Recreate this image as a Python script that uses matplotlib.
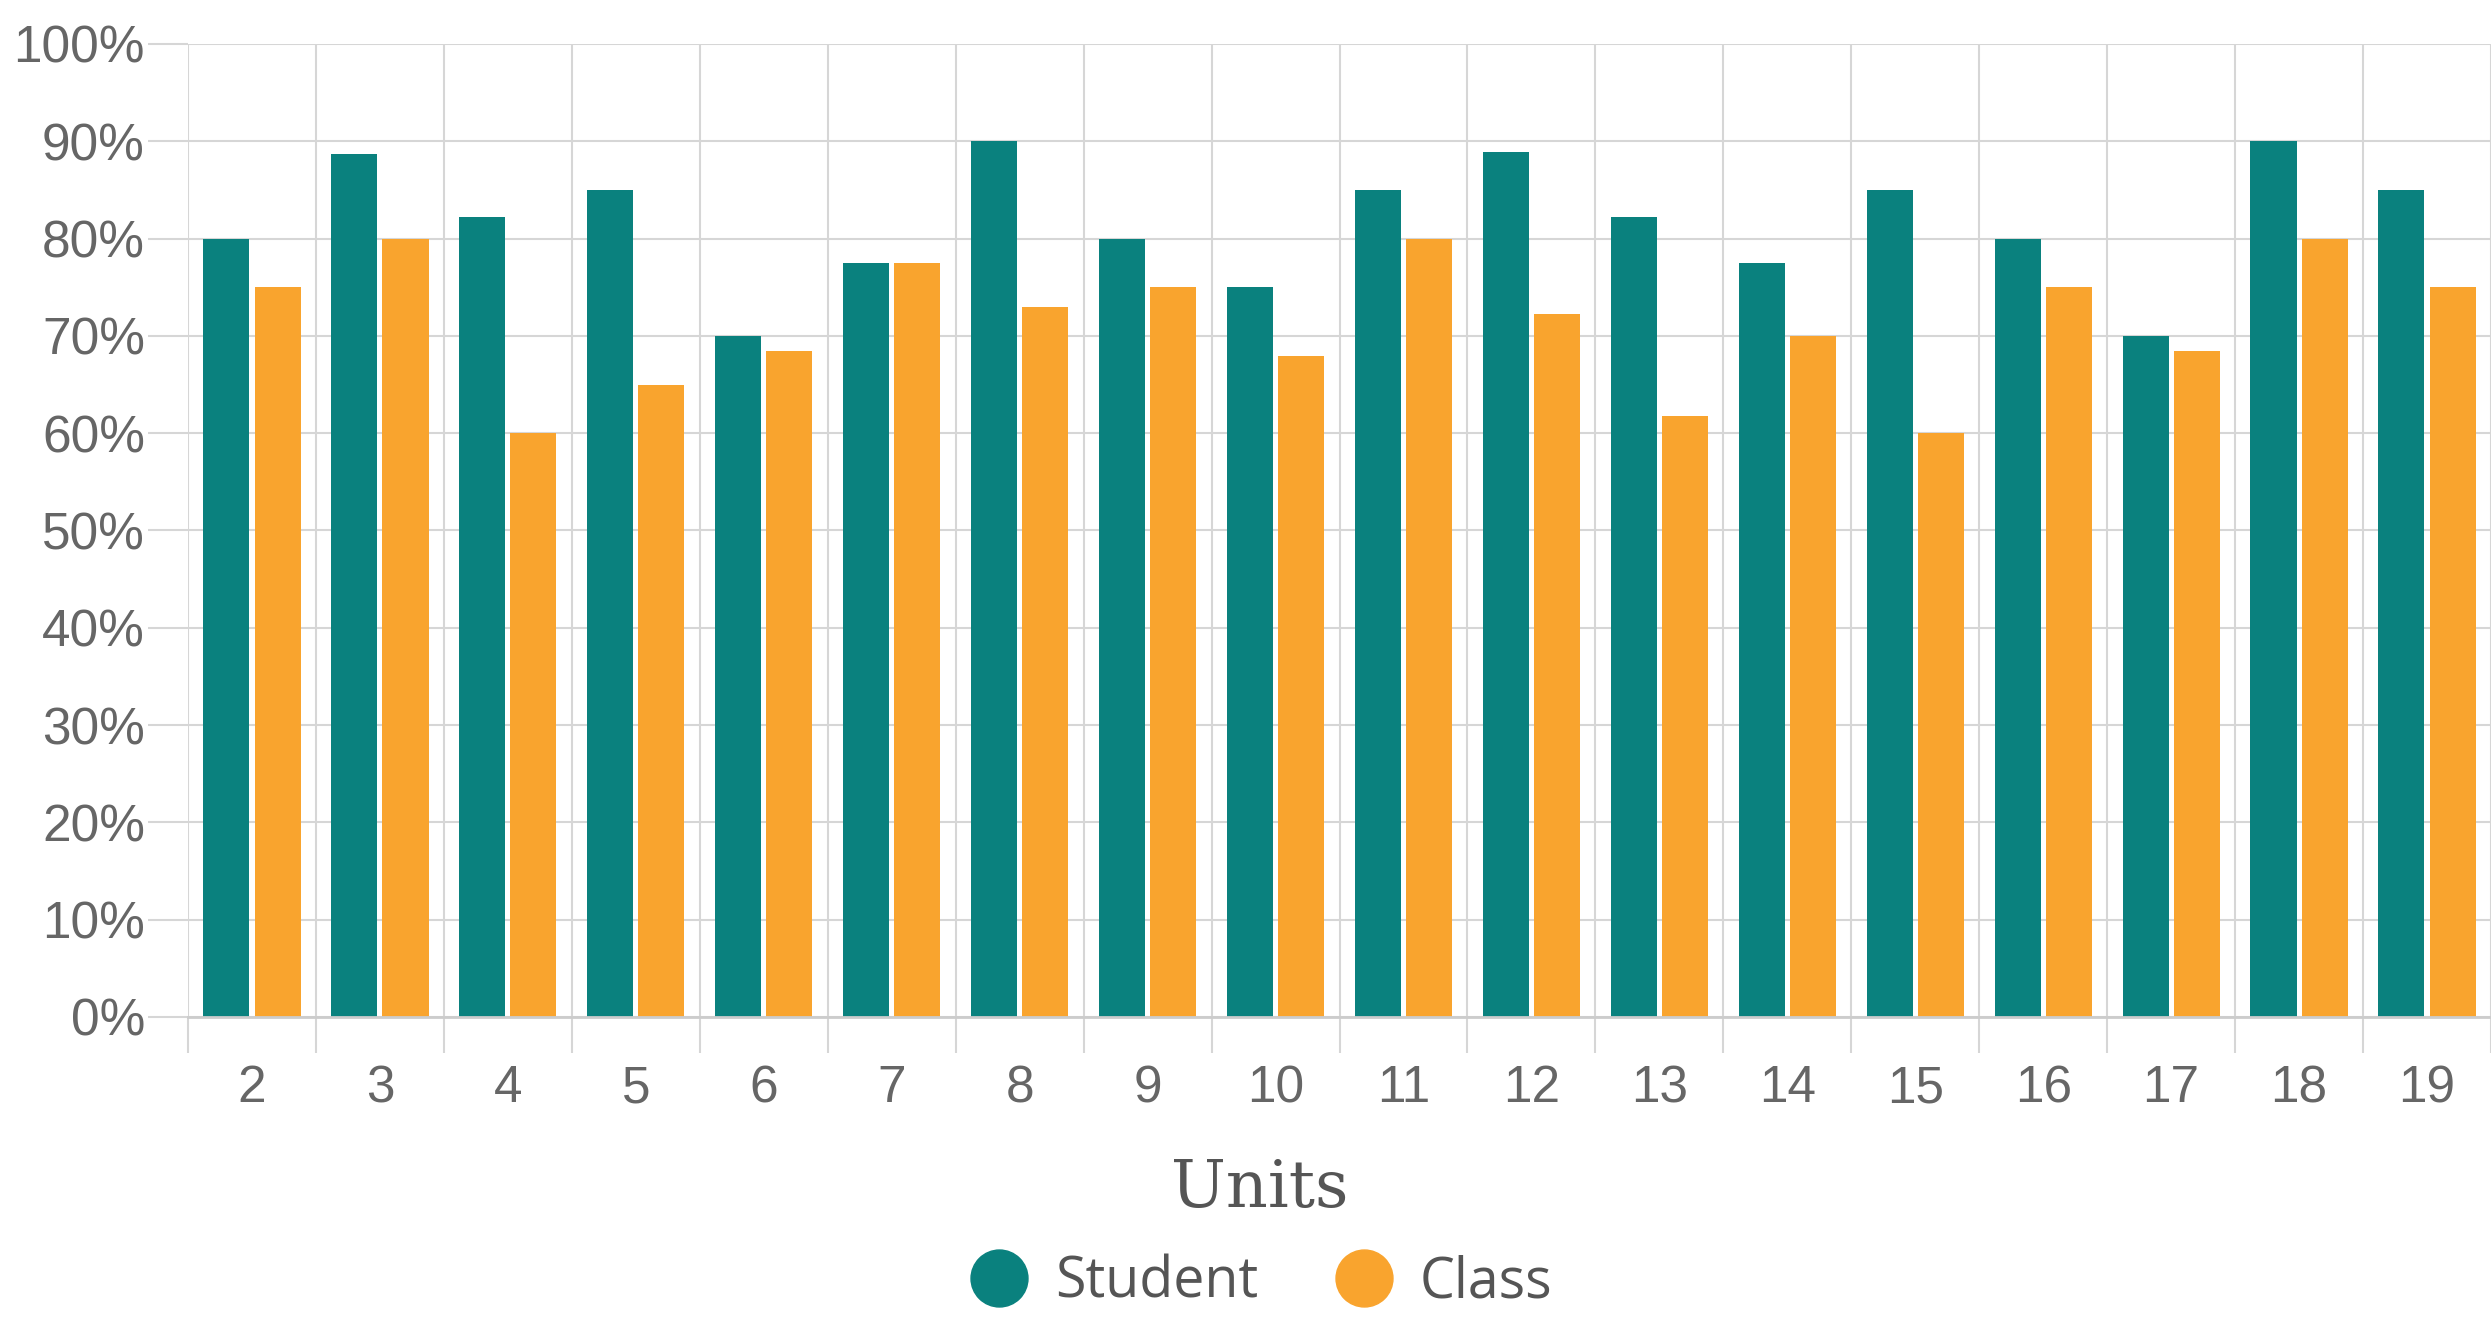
import matplotlib
matplotlib.use("Agg")
import matplotlib.pyplot as plt
from matplotlib.lines import Line2D
import numpy as np

units = ["2", "3", "4", "5", "6", "7", "8", "9", "10", "11", "12", "13", "14", "15", "16", "17", "18", "19"]
student = [80, 88.7, 82.2, 85, 70, 77.5, 90, 80, 75, 85, 88.9, 82.2, 77.5, 85, 80, 70, 90, 85]
class_avg = [75, 80, 60, 65, 68.4, 77.5, 73, 75, 67.9, 80, 72.3, 61.8, 70, 60, 75, 68.4, 80, 75]
yticks = [0, 10, 20, 30, 40, 50, 60, 70, 80, 90, 100]
ytick_labels = [f"{v}%" for v in yticks]

TEAL = "#0a817e"
ORANGE = "#f9a42e"
GRID = "#d6d6d6"
TXT = "#666666"

W, H = 2491, 1326
fig = plt.figure(figsize=(W / 100, H / 100), dpi=100)
left = 188 / W
bottom = (H - 1017) / H
top = (H - 44) / H
ax = fig.add_axes([left, bottom, 1 - left, top - bottom])

x = np.arange(len(units))
bw = 0.36
ax.bar(x - 0.2, student, width=bw, color=TEAL, zorder=3)
ax.bar(x + 0.2, class_avg, width=bw, color=ORANGE, zorder=3)

ax.set_ylim(0, 100)
ax.set_xlim(-0.5, -0.5 + (W - 188) / 128.4)

ax.set_yticks(yticks)
ax.set_yticklabels(ytick_labels, fontsize=37, color=TXT, family="Liberation Sans")
ax.tick_params(axis="y", length=29, width=1.5, color=GRID, pad=2)

ax.set_xticks(x)
ax.set_xticklabels(units, fontsize=37, color=TXT, family="Liberation Sans")
ax.set_xticks(np.arange(len(units) + 1) - 0.5, minor=True)
ax.tick_params(axis="x", which="major", length=0, pad=34)
ax.tick_params(axis="x", which="minor", length=26, width=1.5, color=GRID)

ax.grid(axis="y", which="major", color=GRID, linewidth=1.5, zorder=0)
ax.grid(axis="x", which="minor", color=GRID, linewidth=1.5, zorder=0)
ax.set_axisbelow(True)
for s in ["top", "right", "left"]:
    ax.spines[s].set_visible(False)
ax.spines["bottom"].set_color("#cccccc")
ax.spines["bottom"].set_linewidth(2)
ax.spines["bottom"].set_zorder(4)

fig.text(1260 / W, 1 - 1189 / H, "Units", ha="center", va="center",
         fontsize=47, color="#555555", family="DejaVu Serif")

handles = [
    Line2D([], [], marker="o", linestyle="none", markersize=41, markerfacecolor=TEAL, markeredgecolor=TEAL),
    Line2D([], [], marker="o", linestyle="none", markersize=41, markerfacecolor=ORANGE, markeredgecolor=ORANGE),
]
fig.legend(handles, ["Student", "Class"], loc="center", bbox_to_anchor=(1259 / W, 1 - 1283 / H),
           ncol=2, frameon=False, prop={"family": "Open Sans", "size": 40},
           handlelength=1.2, handletextpad=0.4, columnspacing=1.3, labelcolor="#555555")

fig.savefig("out.png", dpi=100, facecolor="white")
